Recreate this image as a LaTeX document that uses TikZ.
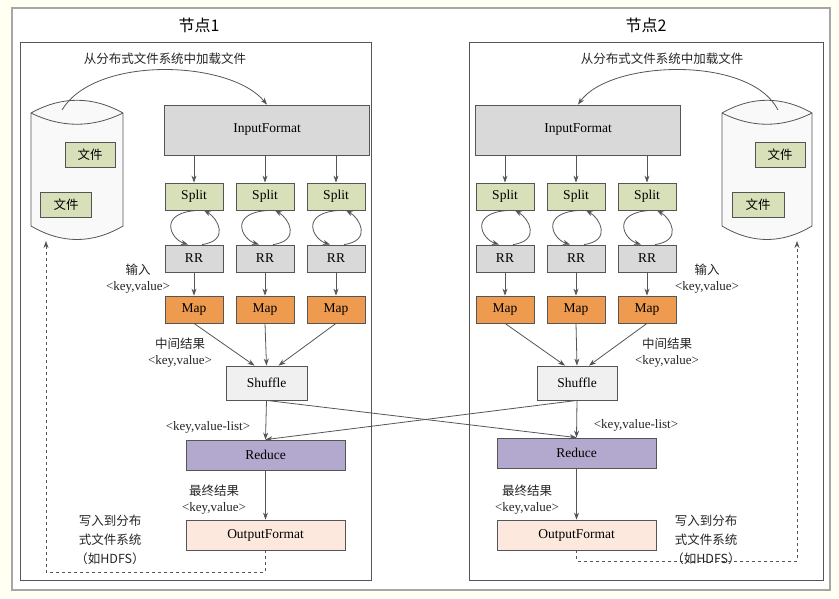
\documentclass[tikz,border=0pt]{standalone}
\usepackage{fontspec}
\setmainfont{Liberation Serif}
\newfontfamily\cjk{Noto Sans CJK SC}
\usetikzlibrary{arrows.meta}
\definecolor{bgc}{HTML}{FFFFF2}
\definecolor{grayb}{HTML}{D9D9D9}
\definecolor{greenb}{HTML}{D7E0B9}
\definecolor{orangeb}{HTML}{EE9A4F}
\definecolor{purpleb}{HTML}{B3A9CE}
\definecolor{peachb}{HTML}{FCE8DC}
\definecolor{lineg}{HTML}{555555}
\tikzset{
  every path/.style={line width=0.8pt},
  box/.style={draw=lineg, fill=#1, inner sep=0pt, font=\fontsize{13.5}{15}\selectfont},
  cbox/.style={box=#1, font=\cjk\fontsize{12.5}{14}\selectfont},
  lbl/.style={font=\fontsize{13}{16}\selectfont, align=center, text=black!85},
  arr/.style={-{Stealth[length=7pt,width=5pt]}, draw=lineg},
}
\begin{document}
\begin{tikzpicture}[x=1pt,y=-1pt]
\fill[bgc] (0,0) rectangle (839,598);
\useasboundingbox (0,0) rectangle (839,598);
\draw[gray!70, line width=1.2pt, fill=white] (12,8) rectangle (830,590);
\draw[lineg, fill=white] (20,42) rectangle (371,580);
\draw[lineg, fill=white] (469,42) rectangle (823,580);
\node[font=\cjk\fontsize{16}{18}\selectfont] (t1) at (199,25) {节点1};
\node[font=\cjk\fontsize{16}{18}\selectfont] (t2) at (646,25) {节点2};

% cylinders
\foreach \l/\r in {31/123, 722/812} {
  \draw[lineg, fill=gray!5] (\l,113) .. controls ({\l+(\r-\l)/3},96) and ({\l+2*(\r-\l)/3},96) .. (\r,113)
     -- (\r,226) .. controls ({\l+2*(\r-\l)/3},244) and ({\l+(\r-\l)/3},244) .. (\l,226) -- cycle;
  \draw[lineg] (\l,113) .. controls ({\l+(\r-\l)/3},128) and ({\l+2*(\r-\l)/3},128) .. (\r,113);
}
\node[cbox=greenb, minimum width=50pt, minimum height=25pt] (fa1) at (90,155) {文件};
\node[cbox=greenb, minimum width=51pt, minimum height=25pt] (fb1) at (66,205) {文件};
\node[cbox=greenb, minimum width=50pt, minimum height=25pt] (fa2) at (780,155) {文件};
\node[cbox=greenb, minimum width=52pt, minimum height=25pt] (fb2) at (758,205) {文件};
\coordinate (c1top) at (62,110);
\coordinate (c1bot) at (46,241);
\coordinate (c2top) at (778,110);
\coordinate (c2bot) at (797,241);

% two pipelines
\foreach \n/\ix in {1/267, 2/578} {
  \node[box=grayb, minimum width=205pt, minimum height=50pt] (in\n) at (\ix,130) {InputFormat};
  \foreach \k/\dx in {a/-71, b/0, c/71} {
    \node[box=greenb, minimum width=58pt, minimum height=27pt] (s\n\k) at (\ix+\dx-2,196.5) {Split};
    \node[box=grayb, minimum width=58pt, minimum height=27pt] (r\n\k) at (\ix+\dx-2,258.5) {RR};
    \node[box=orangeb, minimum width=58pt, minimum height=27pt] (m\n\k) at (\ix+\dx-2,309.5) {Map};
    \draw[arr] (in\n.south -| s\n\k) -- (s\n\k.north);
    \draw[arr] (r\n\k.south) -- (m\n\k.north);
    \draw[arr] ([xshift=4pt]s\n\k.south) .. controls +(-40,2) and +(-18,-6) .. ([xshift=-6pt]r\n\k.north);
    \draw[arr] ([xshift=8pt]r\n\k.north) .. controls +(28,-4) and +(14,8) .. ([xshift=10pt]s\n\k.south);
  }
}
\node[box=gray!12, minimum width=81pt, minimum height=34pt] (sh1) at (266.5,383) {Shuffle};
\node[box=gray!12, minimum width=80pt, minimum height=34pt] (sh2) at (577,383) {Shuffle};
\node[box=purpleb, minimum width=159pt, minimum height=30pt] (re1) at (265.5,455) {Reduce};
\node[box=purpleb, minimum width=159pt, minimum height=30pt] (re2) at (576.5,453) {Reduce};
\node[box=peachb, minimum width=159pt, minimum height=30pt] (of1) at (265.5,535) {OutputFormat};
\node[box=peachb, minimum width=159pt, minimum height=30pt] (of2) at (576.5,535) {OutputFormat};

\foreach \n in {1,2} {
  \draw[arr] (m\n a.south) -- ([xshift=-12pt]sh\n.north);
  \draw[arr] (m\n b.south) -- (sh\n.north);
  \draw[arr] (m\n c.south) -- ([xshift=12pt]sh\n.north);
  \draw[arr] (sh\n.south) -- (re\n.north);
  \draw[arr] (re\n.south) -- (of\n.north);
}
\draw[arr] (sh1.south) -- (re2.north);
\draw[arr] (sh2.south) -- (re1.north);

% load arcs
\draw[arr] (c1top) .. controls (95,55) and (230,60) .. (in1.north);
\draw[arr] (c2top) .. controls (750,55) and (610,60) .. (in2.north);

% write-back dashed
\draw[arr, dashed] (of1.south) -- (of1.south |- 0,572) -- (46,572) -- (c1bot);
\draw[arr, dashed] (of2.south) -- (of2.south |- 0,561) -- (797,561) -- (c2bot);

% labels
\node[lbl, font=\cjk\fontsize{12.5}{16}\selectfont] (ld1) at (165,59) {从分布式文件系统中加载文件};
\node[lbl, font=\cjk\fontsize{12.5}{16}\selectfont] (ld2) at (662,59) {从分布式文件系统中加载文件};
\node[lbl] (k1) at (138,279) {{\cjk\fontsize{12.5}{16}\selectfont 输入}\\<key,value>};
\node[lbl] (k2) at (707,279) {{\cjk\fontsize{12.5}{16}\selectfont 输入}\\<key,value>};
\node[lbl] (k3) at (180,353) {{\cjk\fontsize{12.5}{16}\selectfont 中间结果}\\<key,value>};
\node[lbl] (k4) at (667,353) {{\cjk\fontsize{12.5}{16}\selectfont 中间结果}\\<key,value>};
\node[lbl] (k5) at (208,427) {<key,value-list>};
\node[lbl] (k6) at (636,425) {<key,value-list>};
\node[lbl] (k7) at (214,500) {{\cjk\fontsize{12.5}{16}\selectfont 最终结果}\\<key,value>};
\node[lbl] (k8) at (527,500) {{\cjk\fontsize{12.5}{16}\selectfont 最终结果}\\<key,value>};
\node[lbl, font=\cjk\fontsize{12.5}{19}\selectfont] (k9) at (110,540) {写入到分布\\式文件系统\\（如HDFS）};
\node[lbl, font=\cjk\fontsize{12.5}{19}\selectfont] (k10) at (706,540) {写入到分布\\式文件系统\\（如HDFS）};
\end{tikzpicture}
\end{document}
